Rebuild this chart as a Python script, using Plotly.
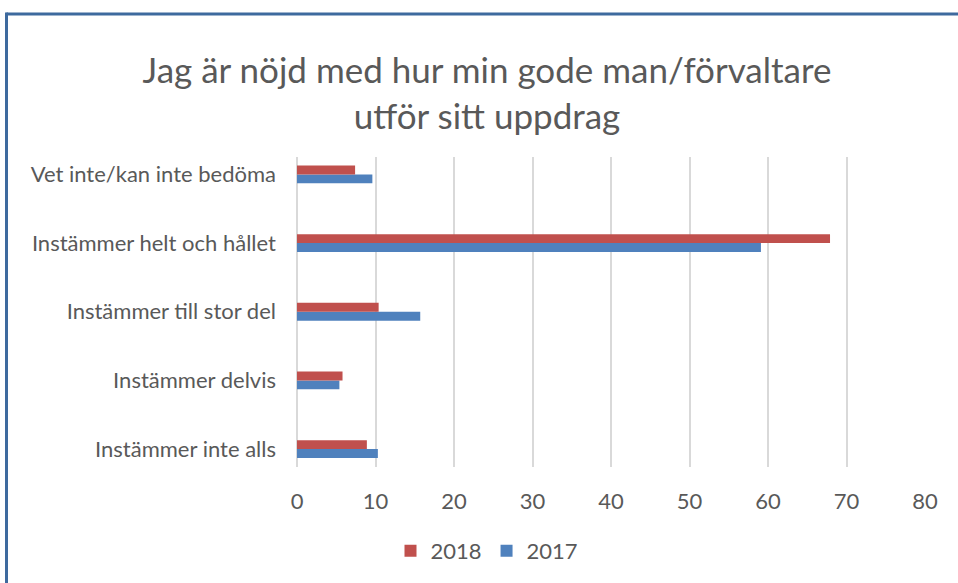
import plotly.graph_objects as go

categories = ["Instämmer inte alls", "Instämmer delvis", "Instämmer till stor del",
              "Instämmer helt och hållet", "Vet inte/kan inte bedöma"]
values_2018 = [8.9, 5.8, 10.4, 67.9, 7.4]
values_2017 = [10.3, 5.4, 15.7, 59.1, 9.6]
x_ticks = [0, 10, 20, 30, 40, 50, 60, 70, 80]
title_text = "Jag är nöjd med hur min gode man/förvaltare<br>utför sitt uppdrag"

FONT = "Lato, 'Open Sans', sans-serif"
GREY = "#595959"

fig = go.Figure()
fig.add_trace(go.Bar(y=categories, x=values_2017, name="2017", orientation="h",
                     marker=dict(color="#4F81BD", line=dict(width=0))))
fig.add_trace(go.Bar(y=categories, x=values_2018, name="2018", orientation="h",
                     marker=dict(color="#C0504D", line=dict(width=0))))

W, H = 958, 583
L, R, T, B = 297, 33, 157, 115
pw, ph = W - L - R, H - T - B

def px_x(p):
    return (p - L) / pw

def px_y(p):
    return (H - B - p) / ph

fig.update_layout(
    width=W, height=H,
    margin=dict(l=L, r=R, t=T, b=B),
    paper_bgcolor="white", plot_bgcolor="white",
    barmode="group", bargap=0.74, bargroupgap=0,
    font=dict(family=FONT, color=GREY, size=22),
    title=dict(text=title_text, xref="container", x=487 / W, xanchor="center",
               y=1 - 83 / H, yanchor="middle",
               font=dict(size=35, color=GREY, family=FONT)),
    xaxis=dict(range=[0, 80], tickvals=x_ticks, showgrid=True, gridcolor="#D9D9D9",
               gridwidth=2, zeroline=True, zerolinecolor="#D9D9D9", zerolinewidth=2,
               showline=False, ticks="", tickfont=dict(size=22, color=GREY),
               ticklabelstandoff=19),
    yaxis=dict(range=[-0.261, 4.254], showgrid=False, zeroline=False, showline=False,
               ticks="", tickfont=dict(size=22, color=GREY), ticklabelstandoff=20),
    legend=dict(orientation="h", x=px_x(487), xanchor="center", y=px_y(551),
                yanchor="middle", traceorder="reversed", itemwidth=30,
                font=dict(size=22, color=GREY), itemsizing="constant"),
    showlegend=True,
)

border = "#3E6A9E"
fig.add_shape(type="line", xref="paper", yref="paper",
              x0=px_x(6.5), x1=px_x(W + 2), y0=px_y(13.5), y1=px_y(13.5),
              line=dict(color=border, width=3))
fig.add_shape(type="line", xref="paper", yref="paper",
              x0=px_x(6.5), x1=px_x(6.5), y0=px_y(12), y1=px_y(H + 2),
              line=dict(color=border, width=3))

fig.write_html("out.html", config={"displayModeBar": False},
               post_script="document.body.style.margin='0';document.body.style.overflow='hidden';")
